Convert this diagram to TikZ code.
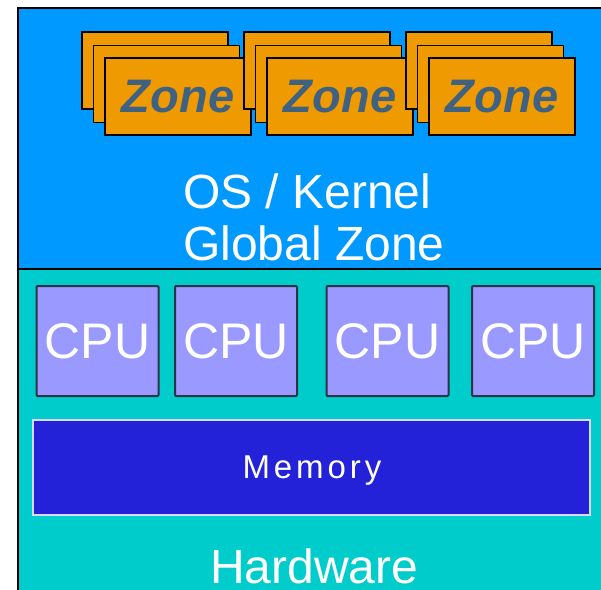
\documentclass[tikz,border=0pt]{standalone}
\usepackage{fontspec}
\setmainfont{Liberation Sans}
\definecolor{kernelblue}{RGB}{0,153,255}
\definecolor{hwteal}{RGB}{0,204,204}
\definecolor{zoneorange}{RGB}{238,154,0}
\definecolor{zonetext}{RGB}{64,98,130}
\definecolor{cpufill}{RGB}{153,153,255}
\definecolor{cpuline}{RGB}{45,50,70}
\definecolor{memfill}{RGB}{36,34,216}
\tikzset{
  zonebox/.style={draw=black, line width=1.6pt, fill=zoneorange, minimum width=146pt, minimum height=77pt, inner sep=0pt},
  cpubox/.style={draw=cpuline, line width=2pt, fill=cpufill, minimum width=122pt, minimum height=110pt, inner sep=0pt, rounded corners=1pt},
  membox/.style={draw=white!85!blue, line width=1.5pt, fill=memfill, minimum width=557pt, minimum height=95pt, inner sep=0pt},
  bigtxt/.style={text=white, font=\fontsize{48}{52}\selectfont, inner sep=0pt}
}
\begin{document}
\begin{tikzpicture}[x=1pt,y=-1pt]
\useasboundingbox (0,0) rectangle (601,589);
\clip (0,0) rectangle (601,589);
% the two layers
\fill[kernelblue] (18,8) rectangle (610,269);
\fill[hwteal] (18,269) rectangle (610,600);
\draw[line width=2pt] (18,600) -- (18,8) -- (610,8);
\draw[line width=2pt] (18,269) -- (610,269);
% zone stacks, three cards each
\foreach \i/\cx in {1/155,2/317,3/479}{
  \node[zonebox] (zback\i) at (\cx,70.5) {};
  \node[zonebox] (zmid\i) at (\cx+11.5,84) {};
  \node[zonebox, text=zonetext, font=\fontsize{47}{50}\selectfont\bfseries\itshape] (zone\i) at (\cx+23,96.5) {Zone};
}
\node[bigtxt, anchor=base west] (oskernel) at (183,208) {OS / Kernel};
\node[bigtxt, anchor=base west] (globalzone) at (183,260) {Global Zone};
% hardware
\foreach \n/\cx in {1/97.5,2/236,3/387.5,4/533}
\node[cpubox, text=white, font=\fontsize{50}{52}\selectfont] (cpu\n) at (\cx,341) {CPU};
\node[membox] (mem) at (311.5,467.5) {};
\node[text=white, inner sep=0pt, anchor=base, font=\fontsize{33}{36}\selectfont\addfontfeatures{LetterSpace=12}] (memtxt) at (312,478) {Memory};
\node[bigtxt, anchor=base west] (hardware) at (210,583) {Hardware};
\end{tikzpicture}
\end{document}
